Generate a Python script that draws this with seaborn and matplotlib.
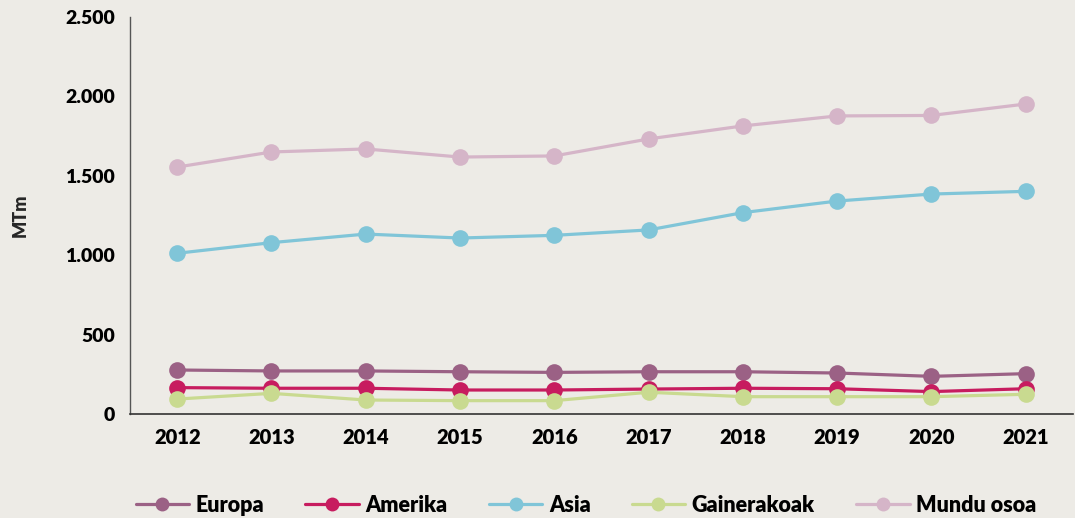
import matplotlib
matplotlib.use('Agg')
import matplotlib.pyplot as plt
from matplotlib.ticker import FuncFormatter, FixedLocator
import numpy as np
import pandas as pd
import seaborn as sns

years = [2012, 2013, 2014, 2015, 2016, 2017, 2018, 2019, 2020, 2021]
europa = [277, 271, 271, 266, 262, 266, 266, 258, 237, 254]
amerika = [166, 162, 162, 151, 151, 157, 162, 159, 141, 159]
asia = [1012, 1079, 1133, 1108, 1125, 1159, 1268, 1341, 1385, 1402]
gainerakoak = [94, 130, 88, 84, 84, 137, 109, 109, 109, 124]
mundu = [1555, 1650, 1669, 1618, 1625, 1732, 1814, 1877, 1880, 1952]

series_names = ['Europa', 'Amerika', 'Asia', 'Gainerakoak', 'Mundu osoa']
colors = ['#9b6185', '#c71c5f', '#80c5d8', '#c9da90', '#d5b5c8']
bg = '#edebe6'

df = pd.DataFrame({'year': years, 'Europa': europa, 'Amerika': amerika,
                   'Asia': asia, 'Gainerakoak': gainerakoak, 'Mundu osoa': mundu})
long = df.melt(id_vars='year', var_name='serie', value_name='val')

sns.set_style('white')
plt.rcParams['font.family'] = ['Lato', 'DejaVu Sans']
plt.rcParams['font.weight'] = 'heavy'
plt.rcParams['text.color'] = 'black'
plt.rcParams['xtick.color'] = 'black'
plt.rcParams['ytick.color'] = 'black'

fig = plt.figure(figsize=(10.75, 5.18), dpi=100, facecolor=bg)
ax = fig.add_axes([0.121, 0.2008, 0.877, 0.7664])
ax.set_facecolor(bg)

sns.lineplot(data=long, x='year', y='val', hue='serie', hue_order=series_names,
             palette=colors, marker='o', markersize=12, markeredgewidth=0,
             linewidth=2.3, ax=ax, legend=False)

ax.set_xlim(2011.5, 2021.5)
ax.set_ylim(0, 2500)
ax.set_yticks([0, 500, 1000, 1500, 2000, 2500])
ax.yaxis.set_major_formatter(FuncFormatter(lambda v, p: f'{int(v):,}'.replace(',', '.')))

# bands: ticks at boundaries, labels in the middle
ax.xaxis.set_major_locator(FixedLocator(np.arange(2011.5, 2022, 1)))
ax.xaxis.set_major_formatter(FuncFormatter(lambda v, p: ''))
ax.set_xticks(years, [str(y) for y in years], minor=True)
ax.tick_params(axis='x', which='major', length=6, width=1, color='#333333', direction='out')
ax.tick_params(axis='x', which='minor', length=0, pad=10, labelsize=14.5)
ax.tick_params(axis='y', length=6, width=1, color='#333333', direction='out', labelsize=14, pad=5)

for s in ['top', 'right']:
    ax.spines[s].set_visible(False)
ax.spines['left'].set_color('#555555')
ax.spines['bottom'].set_color('#333333')
ax.spines['left'].set_linewidth(1)
ax.spines['bottom'].set_linewidth(1.2)

ax.set_xlabel('')
ax.set_ylabel('MTm', fontsize=13, fontweight='heavy', labelpad=26)

handles = [plt.Line2D([], [], color=c, marker='o', markersize=10, markeredgewidth=0,
                      linewidth=2.3) for c in colors]
fig.legend(handles, series_names, loc='center', bbox_to_anchor=(0.545, 0.025), ncol=5,
           frameon=False, fontsize=15.5, handlelength=2.5, columnspacing=1.9,
           handletextpad=0.3)

fig.savefig('out.png', dpi=100, facecolor=bg)
